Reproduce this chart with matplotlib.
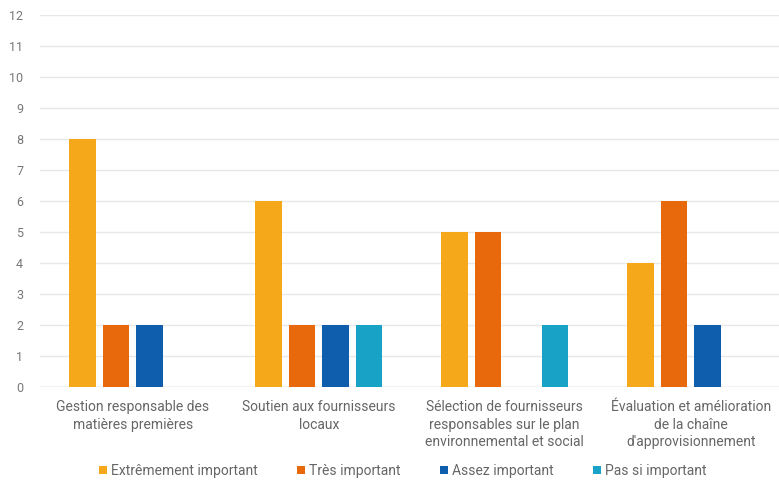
import numpy as np
import matplotlib.pyplot as plt

categories = [
    "Gestion responsable des\nmatières premières",
    "Soutien aux fournisseurs\nlocaux",
    "Sélection de fournisseurs\nresponsables sur le plan\nenvironnemental et social",
    "Évaluation et amélioration\nde la chaîne\nd'approvisionnement",
]
series = ["Extrêmement important", "Très important", "Assez important", "Pas si important"]
extremement = [8, 6, 5, 4]
tres = [2, 2, 5, 6]
assez = [2, 2, 0, 2]
pas_si = [0, 2, 2, 0]
colors = ["#F4A81A", "#E8690C", "#0F5EAE", "#17A2C6"]

plt.rcParams['font.family'] = ['Roboto', 'DejaVu Sans']

fig = plt.figure(figsize=(7.79, 4.84), dpi=100)
ax = fig.add_axes([0.051, 0.2, 0.955, 0.769])

x = np.arange(len(categories))
w = 0.18
for i, (vals, name) in enumerate(zip([extremement, tres, assez, pas_si], series)):
    ax.bar(x + (i - 1.5) * w, vals, width=w * 0.8, color=colors[i], label=name, zorder=3)

ax.set_xlim(-0.5, 3.5)
ax.set_ylim(0, 12)
ax.set_yticks(range(13))
ax.grid(axis='y', color='#e8e8e8', linewidth=1, zorder=0)
for s in ax.spines.values():
    s.set_visible(False)
ax.axhline(0, color='#d9d9d9', linewidth=1, zorder=2)
ax.tick_params(axis='y', length=0, pad=12, labelsize=9, labelcolor='#777777')
ax.tick_params(axis='x', length=0, pad=9, labelsize=10, labelcolor='#666666')
ax.set_xticks(x)
ax.set_xticklabels(categories, linespacing=1.35)

fig.legend(loc='center', bbox_to_anchor=(0.517, 0.027), ncol=4, frameon=False,
           handlelength=0.6, handleheight=0.6, handletextpad=0.3, columnspacing=2.8,
           fontsize=10, labelcolor='#666666')

fig.savefig("out.png", dpi=100)
